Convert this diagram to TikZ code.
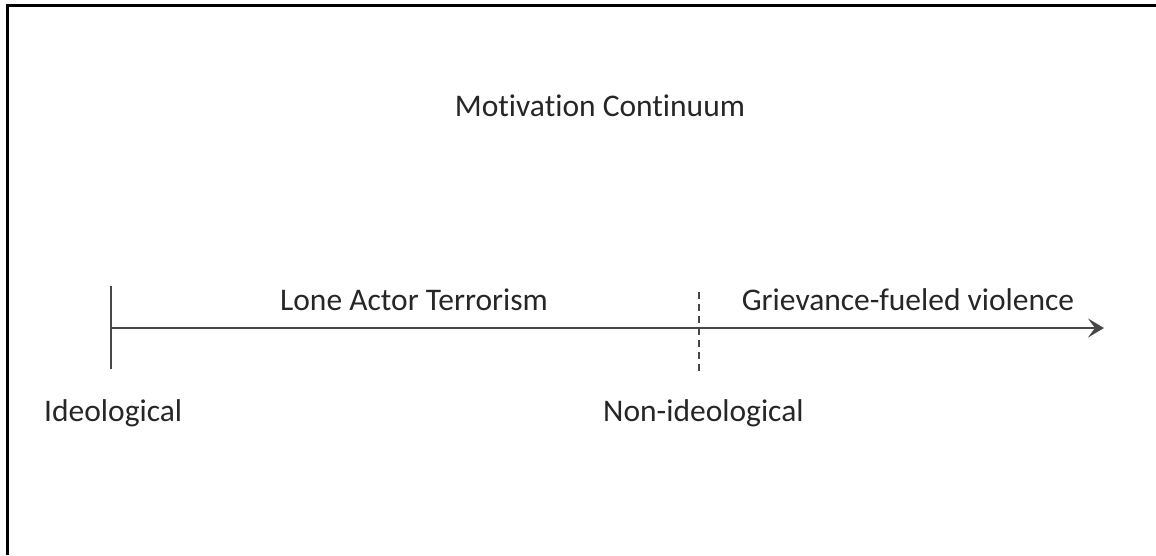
\documentclass[tikz,border=0pt]{standalone}
\usepackage{fontspec}
\setmainfont[Ligatures=NoCommon]{Carlito}
\usetikzlibrary{arrows.meta}
\begin{document}
\begin{tikzpicture}[x=1pt,y=-1pt,
  lbl/.style={inner sep=0pt,font=\fontsize{31.5}{36}\selectfont,text=black!85},
  axis/.style={line width=2.8pt,draw=black!72}]
\useasboundingbox (0,0) rectangle (1156,555);
\draw[line width=3pt] (7,555) -- (7,5) -- (1156,5);
\coordinate (start) at (111,328);
\coordinate (tip) at (1104,328);
\coordinate (vtop) at (111,286);
\coordinate (vbot) at (111,369);
\coordinate (dtop) at (699,292);
\coordinate (dbot) at (699,375);
\draw[axis,-{Stealth[length=16pt,width=19pt,inset=7pt]}] (start) -- (tip);
\draw[axis] (vtop) -- (vbot);
\draw[axis,dash pattern=on 7pt off 5pt] (dtop) -- (dbot);
\node[lbl] (title) at (600,106) {Motivation Continuum};
\node[lbl] (lone) at (414,300) {Lone Actor Terrorism};
\node[lbl] (griev) at (908,300) {Grievance-fueled violence};
\node[lbl,anchor=west] (ideo) at (44,413) {Ideological};
\node[lbl,anchor=west] (nonideo) at (603,413) {Non-ideological};
\end{tikzpicture}
\end{document}
